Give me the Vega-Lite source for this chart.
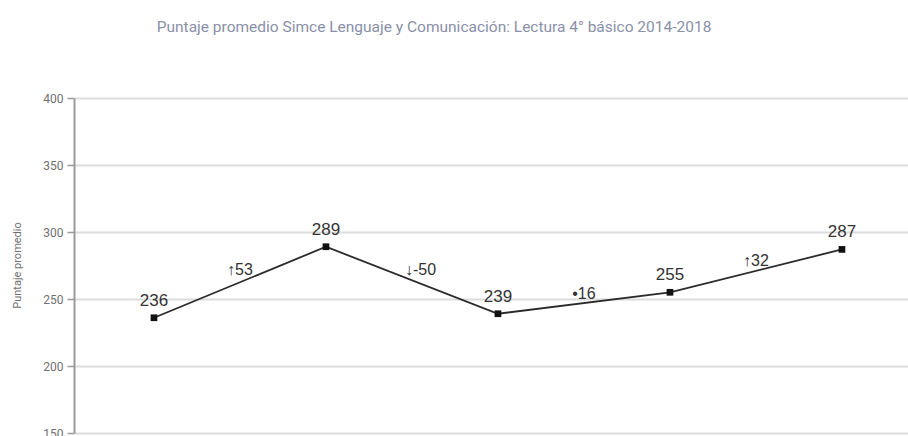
{
  "$schema": "https://vega.github.io/schema/vega-lite/v6.json",
  "width": 834,
  "height": 335,
  "autosize": {"type": "none"},
  "padding": {"left": 74, "top": 98, "right": 0, "bottom": 40},
  "background": "white",
  "title": {
    "text": "Puntaje promedio Simce Lenguaje y Comunicación: Lectura 4° básico 2014-2018",
    "anchor": "middle",
    "dx": -57,
    "offset": 57,
    "fontSize": 15.5,
    "fontWeight": "normal",
    "font": "Roboto",
    "color": "#8a90a8"
  },
  "datasets": {
    "puntajes": [
      {"anio": 2014, "puntaje": 236},
      {"anio": 2015, "puntaje": 289},
      {"anio": 2016, "puntaje": 239},
      {"anio": 2017, "puntaje": 255},
      {"anio": 2018, "puntaje": 287}
    ],
    "diferencias": [
      {"anio": 2014.5, "puntaje": 272, "etiqueta": "↑53"},
      {"anio": 2015.55, "puntaje": 272, "etiqueta": "↓-50"},
      {"anio": 2016.5, "puntaje": 254, "etiqueta": "•16"},
      {"anio": 2017.5, "puntaje": 278, "etiqueta": "↑32"}
    ]
  },
  "encoding": {
    "x": {
      "field": "anio",
      "type": "quantitative",
      "title": null,
      "scale": {"domain": [2013.535, 2018.384], "nice": false, "zero": false},
      "axis": null
    },
    "y": {
      "field": "puntaje",
      "type": "quantitative",
      "title": "Puntaje promedio",
      "scale": {"domain": [150, 400], "nice": false, "zero": false},
      "axis": {
        "values": [150, 200, 250, 300, 350, 400],
        "gridColor": "#dcdcdc",
        "gridWidth": 2,
        "domainColor": "#9a9a9a",
        "domainWidth": 2,
        "tickColor": "#9a9a9a",
        "tickWidth": 1.5,
        "tickSize": 7,
        "labelPadding": 4,
        "labelFont": "Roboto",
        "labelFontSize": 12,
        "labelColor": "#707070",
        "titleFont": "Roboto",
        "titleFontSize": 11,
        "titleFontWeight": "normal",
        "titleColor": "#707070",
        "titleX": -57,
        "titleY": 167,
        "titleBaseline": "middle",
        "titleAngle": -90
      }
    }
  },
  "layer": [
    {
      "data": {"name": "puntajes"},
      "mark": {"type": "line", "color": "#2a2a2a", "strokeWidth": 1.8}
    },
    {
      "data": {"name": "puntajes"},
      "mark": {"type": "point", "shape": "square", "filled": true, "size": 45, "color": "#111111", "opacity": 1}
    },
    {
      "data": {"name": "puntajes"},
      "mark": {"type": "text", "dy": -17, "fontSize": 17, "font": "Liberation Sans", "color": "#333333"},
      "encoding": {"text": {"field": "puntaje", "type": "quantitative"}}
    },
    {
      "data": {"name": "diferencias"},
      "mark": {"type": "text", "fontSize": 16, "font": "Liberation Sans", "color": "#333333"},
      "encoding": {"text": {"field": "etiqueta", "type": "nominal"}}
    }
  ],
  "config": {"view": {"stroke": null}}
}
